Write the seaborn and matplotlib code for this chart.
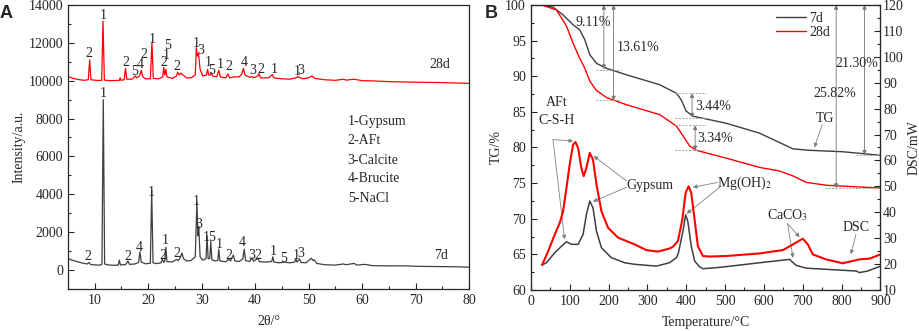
import numpy as np
import pandas as pd
import matplotlib
matplotlib.use("Agg")
import matplotlib.pyplot as plt
import seaborn as sns
from matplotlib.ticker import MultipleLocator

sns.set_style("ticks")
plt.rcParams['font.family'] = ['Liberation Serif', 'DejaVu Serif']
plt.rcParams['mathtext.fontset'] = 'stix'
plt.rcParams['font.size'] = 10

GRAY = '#3f3f3f'
RED = '#ff0000'

# ---- XRD, 7d (2theta, intensity) ----
x7 = [5.0, 6.0, 7.0, 8.0, 8.6, 8.9, 9.2, 10.0, 11.0, 11.35, 11.6, 11.85, 12.5, 13.5,
      14.4, 14.6, 14.8, 15.8, 16.2, 16.5, 17.5, 18.2, 18.45, 18.7, 19.5, 20.4, 20.65,
      20.9, 21.5, 22.4, 22.65, 22.9, 23.1, 23.3, 23.5, 24.5, 25.3, 25.6, 26.0, 26.3,
      26.6, 27.2, 28.0, 28.8, 29.1, 29.3, 29.45, 29.7, 30.2, 30.8, 31.0, 31.2, 31.5,
      31.7, 31.9, 32.5, 33.0, 33.2, 33.4, 34.5, 35.0, 35.4, 35.9, 36.2, 37.0, 37.7,
      37.95, 38.2, 39.0, 39.4, 39.7, 40.5, 40.8, 42.0, 43.1, 43.3, 43.5, 44.5, 45.5,
      46.5, 47.4, 47.6, 47.8, 48.3, 48.6, 49.5, 50.5, 50.8, 51.0, 51.5, 53.0, 55.0,
      56.5, 57.0, 58.5, 59.0, 60.5, 62.0, 65.0, 68.0, 70.0, 72.0, 75.0, 78.0, 80.0]
y7 = [600, 500, 420, 350, 320, 400, 300, 270, 260, 300, 9000, 320, 270, 250,
      260, 520, 270, 290, 480, 300, 320, 400, 960, 420, 330, 360, 4200,
      380, 340, 380, 580, 400, 480, 1200, 450, 420, 560, 500, 650, 900,
      600, 480, 500, 700, 3600, 1800, 2300, 700, 520, 600, 1800, 600, 600,
      1500, 550, 480, 500, 1100, 480, 440, 560, 480, 790, 480, 450, 600,
      1100, 500, 450, 650, 460, 620, 440, 420, 450, 700, 420, 380, 420,
      380, 420, 600, 420, 580, 400, 380, 620, 500, 550, 350, 280, 260,
      320, 280, 350, 260, 300, 230, 220, 220, 200, 190, 180, 170, 150]

# ---- XRD, 28d ----
x28 = [5.0, 6.0, 7.0, 8.0, 8.8, 9.05, 9.3, 10.5, 11.3, 11.55, 11.8, 13.0, 14.6, 14.75,
       14.9, 15.5, 15.75, 16.0, 17.0, 17.6, 17.8, 18.4, 18.7, 19.0, 19.5, 20.4, 20.7,
       20.95, 22.0, 22.7, 22.9, 23.1, 23.3, 23.5, 24.5, 25.3, 25.5, 25.8, 26.1, 26.5,
       27.2, 28.0, 28.8, 29.0, 29.2, 29.4, 29.7, 30.2, 30.9, 31.1, 31.3, 31.6, 31.8,
       32.0, 32.8, 33.2, 33.5, 34.5, 34.9, 35.2, 36.0, 37.0, 37.5, 37.8, 38.1, 39.0,
       39.4, 39.7, 40.5, 40.7, 41.0, 42.5, 43.2, 43.5, 45.0, 46.5, 47.6, 48.0, 48.4,
       49.0, 50.0, 50.6, 51.2, 53.0, 55.0, 56.5, 57.0, 58.5, 60.0, 62.0, 65.0, 70.0,
       75.0, 80.0]
y28 = [10220, 10120, 10060, 10020, 10050, 11100, 10050, 10010, 10020, 13150, 10030, 10000, 10020, 10150,
       10020, 10050, 10650, 10080, 10080, 10260, 10150, 10250, 10550, 10200, 10100, 10100, 12000,
       10120, 10100, 10200, 10700, 10300, 10600, 10200, 10120, 10250, 10450, 10300, 10400, 10300,
       10150, 10150, 10300, 11750, 11300, 11450, 10600, 10250, 10300, 10600, 10300, 10300, 10440,
       10250, 10200, 10550, 10200, 10150, 10350, 10150, 10200, 10200, 10350, 10650, 10300, 10180,
       10220, 10150, 10250, 10380, 10150, 10150, 10320, 10150, 10100, 10080, 10150, 10220, 10150,
       10100, 10150, 10250, 10120, 10050, 10020, 10080, 10030, 10080, 10000, 9990, 9950, 9920,
       9900, 9860]

# peak labels
lab28_x = [8.95, 11.55, 15.8, 17.5, 18.5, 19.2, 20.8, 23.0, 23.4, 23.7, 25.4, 29.0,
           29.8, 31.2, 31.8, 33.4, 35.1, 37.9, 39.5, 41.0, 43.5, 47.9, 48.6]
lab28_y = [11440, 13420, 10960, 10490, 10880, 11400, 12190, 10960, 11320, 11840, 10740, 11960,
           11610, 10960, 10530, 10880, 10740, 10960, 10530, 10610, 10580, 10470, 10530]
lab28_t = ['2', '1', '2', '5', '4', '2', '1', '2', '1', '5', '2', '1',
           '3', '1', '5', '1', '2', '4', '3', '2', '1', '1', '3']
lab7_x = [8.75, 11.55, 16.2, 18.4, 20.6, 22.65, 23.2, 25.3, 29.0, 29.5, 30.9, 31.8,
          33.2, 35.0, 37.6, 39.3, 40.5, 43.3, 45.4, 47.7, 48.5]
lab7_y = [700, 9300, 700, 1190, 4070, 790, 1540, 880, 3600, 2400, 1720, 1720,
          1370, 790, 1440, 790, 790, 960, 610, 790, 880]
lab7_t = ['2', '1', '2', '4', '1', '2', '1', '2', '1', '3', '1', '5',
          '1', '2', '4', '3', '2', '1', '5', '1', '3']
phases = ['1-Gypsum', '2-AFt', '3-Calcite', '4-Brucite', '5-NaCl']
phase_y = [7860, 6840, 5790, 4830, 3770]

# ---- TG (%) ----
tg_t7 = [28, 57, 83, 109, 126, 139, 152, 169, 195, 246, 332, 375, 387, 400, 417, 503,
         589, 675, 717, 803, 900]
tg_7 = [100, 99.7, 98.6, 97.2, 96.5, 95.1, 93.0, 91.8, 91.1, 90.2, 88.8, 87.6, 86.7,
        85.1, 84.4, 83.4, 82.0, 79.8, 79.6, 79.4, 78.9]
tg_t28 = [28, 66, 92, 109, 126, 139, 152, 169, 195, 246, 332, 375, 392, 409, 426, 503,
          589, 640, 675, 709, 760, 900]
tg_28 = [100, 99.3, 97.0, 94.6, 92.5, 91.1, 89.3, 88.0, 87.0, 86.0, 84.6, 83.0, 81.6,
         80.2, 79.6, 78.5, 77.2, 76.7, 76.0, 75.1, 74.7, 74.3]

# ---- DSC (mW) ----
dsc_t7 = [29, 40, 61.7, 79, 91.7, 104.6, 121.7, 134.5, 143, 151.7, 160, 169, 181.7,
          207, 241.6, 267, 323, 357, 375, 380, 391.6, 398.5, 404, 413, 421.6, 434,
          443, 477, 503, 589, 666, 683, 709, 803, 838, 846, 867, 900]
dsc_7 = [19.6, 20.5, 24.4, 26.9, 28.6, 27.6, 27.6, 31.4, 39.1, 44.3, 41.7, 32.7, 26.3,
         22.5, 20.5, 19.9, 19.2, 20.5, 22.5, 24.4, 32.7, 39.0, 36.6, 26.9, 21.2, 19.0,
         18.2, 18.6, 19.0, 20.5, 21.8, 19.5, 18.4, 17.6, 17.3, 16.7, 17.3, 19.2]
dsc_t28 = [29, 44.6, 61.7, 74.6, 83, 91.7, 100, 108.8, 114.8, 121.7, 130, 136, 143,
           151.7, 160, 169, 181.7, 198.8, 224.5, 267, 297, 327, 357, 366, 378.7, 390,
           398.5, 406, 413, 421.6, 430, 443, 460, 503, 589, 649, 675, 700, 713, 726,
           760, 803, 846, 872, 900]
dsc_28 = [19.6, 25.0, 31.4, 36.0, 40.4, 49.4, 58.4, 66.1, 67.1, 64.8, 57.1, 53.9, 57.1,
          62.9, 60.3, 50.7, 40.4, 34.0, 30.2, 27.6, 25.4, 24.8, 26.0, 26.7, 28.9, 37.2,
          47.5, 50.0, 47.5, 37.2, 26.9, 23.1, 22.9, 23.1, 24.1, 25.4, 27.6, 29.8, 27.6,
          23.7, 21.8, 20.3, 21.8, 22.1, 23.7]

# mass loss arrows: x, top, bottom, label, label x, label y
loss_x = [188, 213, 415, 423, 786, 859]
loss_top = [100, 100, 87.6, 83.1, 100, 100]
loss_bot = [91.0, 86.6, 84.2, 79.6, 74.3, 79.0]
loss_txt = ['9.11%', '13.61%', '3.44%', '3.34%', '25.82%', '21.30%']
loss_tx = [160, 276, 470, 475, 782, 840]
loss_ty = [97.5, 94.0, 85.7, 81.2, 87.6, 91.8]
guide_y = [90.9, 86.6, 87.6, 84.2, 83.1, 79.6, 79.0, 74.3]
guide_x0 = [169, 169, 370, 370, 370, 370, 838, 756]
guide_x1 = [233, 233, 452, 452, 452, 452, 900, 900]


def style_axis(ax):
    ax.tick_params(which='both', direction='in', top=False, right=False, labelsize=10)
    ax.tick_params(which='major', length=4, width=0.8)
    ax.tick_params(which='minor', length=2, width=0.8)
    for s in ax.spines.values():
        s.set_linewidth(0.9)
        s.set_visible(True)


fig = plt.figure(figsize=(9.2, 3.31), dpi=100)
axA = fig.add_axes([0.0739, 0.127, 0.436, 0.858])
axB = fig.add_axes([0.577, 0.124, 0.380, 0.861])
axB2 = axB.twinx()

# ---------------- Panel A ----------------
sns.lineplot(x=x7, y=y7, ax=axA, color=GRAY, lw=0.9, estimator=None, sort=False)
sns.lineplot(x=x28, y=y28, ax=axA, color=RED, lw=0.9, estimator=None, sort=False)
for xx, yy, t in zip(lab28_x, lab28_y, lab28_t):
    axA.text(xx, yy, t, ha='center', va='center', fontsize=10)
for xx, yy, t in zip(lab7_x, lab7_y, lab7_t):
    axA.text(xx, yy, t, ha='center', va='center', fontsize=10)
for t, yy in zip(phases, phase_y):
    axA.text(57.3, yy, t, ha='left', va='center', fontsize=10)
axA.text(74.5, 10880, '28d', ha='center', va='center', fontsize=10)
axA.text(74.8, 750, '7d', ha='center', va='center', fontsize=10)
axA.set_xlim(5, 80)
axA.set_ylim(-1000, 14000)
axA.xaxis.set_major_locator(MultipleLocator(10))
axA.xaxis.set_minor_locator(MultipleLocator(5))
axA.yaxis.set_major_locator(MultipleLocator(2000))
axA.yaxis.set_minor_locator(MultipleLocator(1000))
axA.set_yticks([0, 2000, 4000, 6000, 8000, 10000, 12000, 14000])
axA.set_xlabel('2θ/°', fontsize=10, labelpad=6)
axA.set_ylabel('Intensity/a.u.', fontsize=10, labelpad=2)
style_axis(axA)

# ---------------- Panel B ----------------
sns.lineplot(x=tg_t7, y=tg_7, ax=axB, color=GRAY, lw=1.0, label='7d', estimator=None, sort=False)
sns.lineplot(x=tg_t28, y=tg_28, ax=axB, color=RED, lw=1.0, label='28d', estimator=None, sort=False)
sns.lineplot(x=dsc_t7, y=dsc_7, ax=axB2, color=GRAY, lw=1.1, estimator=None, sort=False)
sns.lineplot(x=dsc_t28, y=dsc_28, ax=axB2, color=RED, lw=1.5, estimator=None, sort=False)

for y0, xa, xb in zip(guide_y, guide_x0, guide_x1):
    axB.plot([xa, xb], [y0, y0], ls=(0, (2, 1.5)), color='0.65', lw=0.7)
for xx, yt, yb, t, tx, ty in zip(loss_x, loss_top, loss_bot, loss_txt, loss_tx, loss_ty):
    axB.annotate('', xy=(xx, yb), xytext=(xx, yt),
                 arrowprops=dict(arrowstyle='<|-|>', color='0.45', lw=0.6,
                                 mutation_scale=6, shrinkA=0, shrinkB=0))
    axB.text(tx, ty, t, ha='center', va='center', fontsize=10)

arrow_kw = dict(arrowstyle='-|>', color='0.5', lw=0.6, mutation_scale=6,
                shrinkA=0, shrinkB=0)
notes = [
    ('TG', (758, 84.1), [((750, 83.2), (730, 80.0))]),
    ('AFt', (66, 86.3), []),
    ('C-S-H', (66, 83.8), [((57, 81.1), (109, 80.9)), ((57, 81.1), (87, 67.1))]),
    ('Gypsum', (306, 74.7), [((246, 75.3), (162, 78.8)), ((246, 74.4), (160, 72.4))]),
    ('Mg(OH)$_2$', (550, 75.0), [((481, 75.1), (417, 74.4)), ((486, 74.4), (401, 70.7))]),
    ('CaCO$_3$', (661, 70.5), [((661, 69.3), (692, 67.4)), ((661, 69.3), (675, 64.5))]),
    ('DSC', (837, 68.7), [((837, 67.8), (824, 65.0))]),
]
for txt, pos, arrows in notes:
    axB.text(pos[0], pos[1], txt, ha='center', va='center', fontsize=10)
    for a, b in arrows:
        axB.annotate('', xy=b, xytext=a, arrowprops=arrow_kw)

axB.set_xlim(0, 900)
axB.set_ylim(60, 100)
axB2.set_ylim(10, 120)
axB.xaxis.set_major_locator(MultipleLocator(100))
axB.xaxis.set_minor_locator(MultipleLocator(50))
axB.yaxis.set_major_locator(MultipleLocator(5))
axB.yaxis.set_minor_locator(MultipleLocator(2.5))
axB2.yaxis.set_major_locator(MultipleLocator(10))
axB2.yaxis.set_minor_locator(MultipleLocator(5))
axB.set_xlabel('Temperature/°C', fontsize=10, labelpad=6)
axB.set_ylabel('TG/%', fontsize=10, labelpad=2)
axB2.set_ylabel('DSC/mW', fontsize=10)
axB2.yaxis.set_label_coords(1.078, 0.5)
style_axis(axB)
axB2.tick_params(which='both', direction='in', labelsize=10, pad=2)
axB2.tick_params(which='major', length=4, width=0.8)
axB2.tick_params(which='minor', length=2, width=0.8)

leg = axB.legend(loc='upper left', bbox_to_anchor=(0.70, 0.975), frameon=False,
                 handlelength=2.2, handletextpad=0.2, labelspacing=0.05,
                 borderpad=0, borderaxespad=0, fontsize=10)

fig.text(0.0, 0.985, 'A', ha='left', va='top', fontsize=13, fontweight='bold',
         family='Liberation Sans')
fig.text(0.527, 0.985, 'B', ha='left', va='top', fontsize=13, fontweight='bold',
         family='Liberation Sans')

fig.savefig('out.png', dpi=100)
